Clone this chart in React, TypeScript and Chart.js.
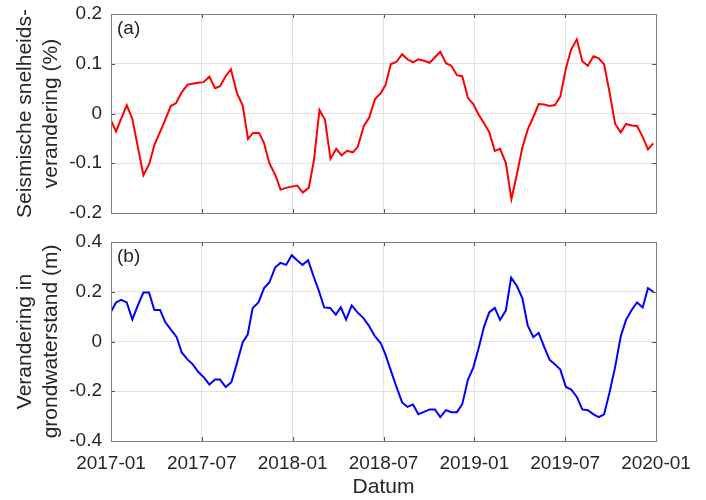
import React, { useEffect, useRef } from 'react';
import Chart, { Plugin } from 'chart.js/auto';

// months since 2017-01
const seismicMonths = [
    0, 0.33, 1.04, 1.41, 2.14, 2.52, 2.87, 3.47, 3.95, 4.3, 4.68, 5.06, 5.4, 5.75, 6.11, 6.5, 6.87, 7.2,
    7.57, 7.92, 8.32, 8.7, 9.05, 9.38, 9.78, 10.1, 10.46, 10.86, 11.2, 11.63, 11.95, 12.3, 12.67, 13.07,
    13.4, 13.77, 14.13, 14.5, 14.88, 15.23, 15.6, 15.98, 16.3, 16.7, 17.06, 17.44, 17.82, 18.13, 18.48,
    18.86, 19.23, 19.58, 19.95, 20.3, 20.68, 21.05, 21.4, 21.75, 22.13, 22.48, 22.85, 23.2, 23.58, 23.93,
    24.3, 24.63, 24.98, 25.35, 25.7, 26.08, 26.45, 26.82, 27.17, 27.53, 27.9, 28.25, 28.62, 28.97, 29.33,
    29.68, 30.05, 30.4, 30.77, 31.13, 31.5, 31.87, 32.22, 32.57, 32.93, 33.3, 33.67, 34.02, 34.4, 34.75,
    35.12, 35.47, 35.82,
];
const seismicValues = [
    -0.014, -0.036, 0.017, -0.011, -0.124, -0.102, -0.063, -0.021, 0.015, 0.021, 0.043, 0.058, 0.06, 0.062,
    0.063, 0.074, 0.051, 0.055, 0.075, 0.089, 0.041, 0.016, -0.051, -0.039, -0.039, -0.059, -0.1, -0.124,
    -0.153, -0.149, -0.147, -0.145, -0.159, -0.149, -0.095, 0.007, -0.012, -0.091, -0.071, -0.084, -0.075,
    -0.078, -0.067, -0.025, -0.008, 0.029, 0.041, 0.057, 0.099, 0.104, 0.119, 0.109, 0.103, 0.109, 0.106,
    0.102, 0.113, 0.124, 0.101, 0.096, 0.077, 0.075, 0.031, 0.019, -0.003, -0.019, -0.037, -0.075, -0.071,
    -0.099, -0.172, -0.121, -0.069, -0.032, -0.007, 0.019, 0.018, 0.015, 0.017, 0.034, 0.091, 0.129, 0.149,
    0.105, 0.096, 0.115, 0.111, 0.099, 0.043, -0.021, -0.038, -0.021, -0.024, -0.025, -0.047, -0.072, -0.06,
];

const waterMonths = [
    0, 0.33, 0.68, 1.04, 1.41, 1.76, 2.14, 2.51, 2.86, 3.24, 3.59, 3.97, 4.34, 4.67, 5.05, 5.4, 5.77, 6.15,
    6.5, 6.87, 7.2, 7.58, 7.95, 8.31, 8.7, 9.03, 9.36, 9.74, 10.11, 10.46, 10.84, 11.19, 11.57, 11.94, 12.27,
    12.65, 13.02, 13.37, 13.73, 14.08, 14.47, 14.85, 15.18, 15.53, 15.9, 16.28, 16.66, 17.03, 17.4, 17.82,
    18.15, 18.48, 18.86, 19.23, 19.58, 19.95, 20.3, 20.68, 21.05, 21.4, 21.75, 22.13, 22.48, 22.85, 23.2,
    23.58, 23.93, 24.3, 24.63, 24.98, 25.35, 25.7, 26.08, 26.43, 26.8, 27.17, 27.53, 27.9, 28.25, 28.62,
    28.97, 29.33, 29.68, 30.05, 30.4, 30.77, 31.13, 31.5, 31.87, 32.22, 32.57, 32.93, 33.3, 33.67, 34.02,
    34.4, 34.75, 35.12, 35.47, 35.82,
];
const waterValues = [
    0.12, 0.157, 0.167, 0.157, 0.088, 0.143, 0.197, 0.197, 0.127, 0.127, 0.077, 0.047, 0.017, -0.044, -0.072,
    -0.092, -0.123, -0.145, -0.173, -0.153, -0.153, -0.183, -0.164, -0.089, -0.003, 0.028, 0.135, 0.157,
    0.215, 0.237, 0.297, 0.316, 0.308, 0.347, 0.328, 0.308, 0.327, 0.264, 0.204, 0.137, 0.135, 0.108, 0.137,
    0.088, 0.145, 0.117, 0.095, 0.064, 0.024, -0.007, -0.056, -0.116, -0.183, -0.245, -0.263, -0.253, -0.292,
    -0.283, -0.273, -0.273, -0.304, -0.276, -0.284, -0.284, -0.252, -0.153, -0.105, -0.023, 0.057, 0.117,
    0.135, 0.087, 0.124, 0.257, 0.224, 0.175, 0.064, 0.017, 0.035, -0.023, -0.073, -0.092, -0.113, -0.183,
    -0.193, -0.223, -0.273, -0.276, -0.293, -0.304, -0.293, -0.205, -0.103, 0.02, 0.087, 0.127, 0.157,
    0.137, 0.215, 0.2,
];

const dateTicks = [0, 6, 12, 18, 24, 30, 36];
const dateLabels = ['2017-01', '2017-07', '2018-01', '2018-07', '2019-01', '2019-07', '2020-01'];
const seismicTicks = [-0.2, -0.1, 0, 0.1, 0.2];
const waterTicks = [-0.4, -0.2, 0, 0.2, 0.4];

const FONT = "'Liberation Sans', Arial, sans-serif";
const TEXT = '#262626';
const GRID = '#e3e3e3';

// box around the plot area, inward tick marks and the panel letter
const boxPlugin: Plugin<'line'> = {
    id: 'box',
    afterDraw(chart) {
        const { ctx, chartArea: a, scales } = chart;
        const label = (chart.options.plugins as any).box?.label as string;
        ctx.save();
        ctx.strokeStyle = '#555';
        ctx.lineWidth = 1;
        ctx.beginPath();
        scales.x.ticks.forEach((t) => {
            const x = Math.round(scales.x.getPixelForValue(t.value)) + 0.5;
            ctx.moveTo(x, a.bottom); ctx.lineTo(x, a.bottom - 4);
            ctx.moveTo(x, a.top); ctx.lineTo(x, a.top + 4);
        });
        scales.y.ticks.forEach((t) => {
            const y = Math.round(scales.y.getPixelForValue(t.value)) + 0.5;
            ctx.moveTo(a.left, y); ctx.lineTo(a.left + 4, y);
            ctx.moveTo(a.right, y); ctx.lineTo(a.right - 4, y);
        });
        ctx.stroke();
        ctx.strokeStyle = '#808080';
        ctx.strokeRect(Math.round(a.left) + 0.5, Math.round(a.top) + 0.5,
            Math.round(a.right - a.left), Math.round(a.bottom - a.top));
        ctx.fillStyle = TEXT;
        ctx.font = `19px ${FONT}`;
        ctx.textBaseline = 'middle';
        ctx.textAlign = 'left';
        ctx.fillText(label, a.left + 6, a.top + 15);
        ctx.restore();
    },
};

interface PanelProps {
    months: number[];
    values: number[];
    yTicks: number[];
    color: string;
    title: string[];
    label: string;
    height: number;
    padTop: number;
    padBottom: number;
    showDates: boolean;
}

const PanelChart: React.FC<PanelProps> = ({ months, values, yTicks, color, title, label, height, padTop, padBottom, showDates }) => {
    const chartRef = useRef<HTMLCanvasElement>(null);
    const chartInstance = useRef<Chart<'line'>>();

    useEffect(() => {
        if (chartRef && chartRef.current) {
            if (chartInstance.current) {
                chartInstance.current.destroy();
            }
            chartInstance.current = new Chart(chartRef.current, {
                type: 'line',
                data: {
                    datasets: [{
                        data: months.map((m, i) => ({ x: m, y: values[i] })),
                        borderColor: color,
                        borderWidth: 2,
                        pointRadius: 0,
                        tension: 0,
                    }],
                },
                options: {
                    animation: false,
                    responsive: false,
                    layout: { padding: { top: padTop, right: 50, bottom: padBottom, left: 0 } },
                    plugins: {
                        legend: { display: false },
                        tooltip: { enabled: false },
                        box: { label },
                    } as any,
                    scales: {
                        x: {
                            type: 'linear',
                            min: 0,
                            max: 36,
                            afterBuildTicks: (s) => { s.ticks = dateTicks.map((v) => ({ value: v })); },
                            afterFit: (s) => { s.height = showDates ? 59 : 0; },
                            grid: { color: GRID, drawTicks: false },
                            border: { display: false },
                            ticks: {
                                display: showDates,
                                padding: 11,
                                color: TEXT,
                                font: { family: FONT, size: 19 },
                                callback: (v) => dateLabels[dateTicks.indexOf(Number(v))],
                            },
                            title: {
                                display: showDates,
                                text: 'Datum',
                                color: TEXT,
                                font: { family: FONT, size: 21 },
                                padding: { top: 0, bottom: 0 },
                            },
                        },
                        y: {
                            min: yTicks[0],
                            max: yTicks[yTicks.length - 1],
                            afterBuildTicks: (s) => { s.ticks = yTicks.map((v) => ({ value: v })); },
                            afterFit: (s) => {
                                s.width = 111;
                                // let the layout padding alone decide the plot top and bottom
                                s.paddingTop = 0;
                                s.paddingBottom = 0;
                            },
                            grid: { color: GRID, drawTicks: false },
                            border: { display: false },
                            ticks: {
                                padding: 9,
                                color: TEXT,
                                font: { family: FONT, size: 19 },
                                callback: (v) => String(Number(v)),
                            },
                            title: {
                                display: true,
                                text: title,
                                color: TEXT,
                                font: { family: FONT, size: 21 },
                                padding: { top: 13, bottom: 0 },
                            },
                        },
                    },
                },
                plugins: [boxPlugin],
            });
        }

        return () => {
            if (chartInstance.current) {
                chartInstance.current.destroy();
                chartInstance.current = undefined;
            }
        };
    }, [months, values, yTicks, color, title, label, height, padTop, padBottom, showDates]);

    return <canvas ref={chartRef} width={706} height={height} style={{ display: 'block' }}></canvas>;
};

const App: React.FC = () => {
    return (
        <div style={{ position: 'absolute', left: 0, top: 0, width: 706, height: 500, background: '#fff' }}>
            <PanelChart
                months={seismicMonths}
                values={seismicValues}
                yTicks={seismicTicks}
                color="#ff0000"
                title={['Seismische snelheids-', 'verandering (%)']}
                label="(a)"
                height={225}
                padTop={14}
                padBottom={12}
                showDates={false}
            />
            <PanelChart
                months={waterMonths}
                values={waterValues}
                yTicks={waterTicks}
                color="#0000ff"
                title={['Verandering in', 'grondwaterstand (m)']}
                label="(b)"
                height={275}
                padTop={17}
                padBottom={0}
                showDates={true}
            />
        </div>
    );
};

export default App;
